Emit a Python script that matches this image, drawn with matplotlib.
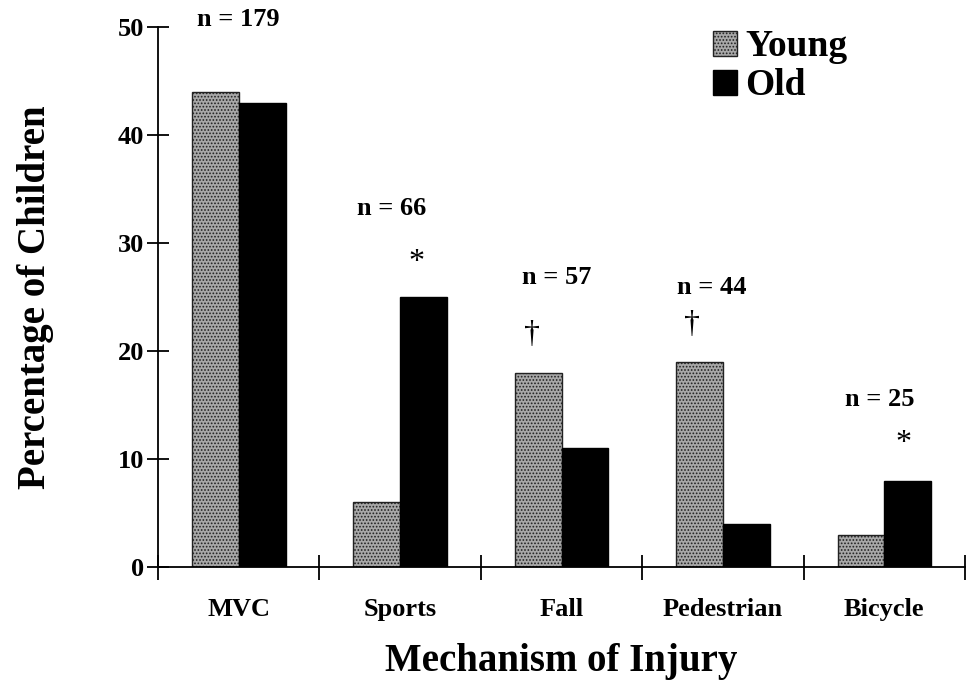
import numpy as np
import matplotlib.pyplot as plt
import matplotlib as mpl

plt.rcParams['font.family'] = ['Liberation Serif', 'DejaVu Serif']
plt.rcParams['font.weight'] = 'bold'
mpl.rcParams['hatch.linewidth'] = 0.8

# percentage of children per mechanism of injury
categories = ['MVC', 'Sports', 'Fall', 'Pedestrian', 'Bicycle']
young = [44, 6, 18, 19, 3]
old = [43, 25, 11, 4, 8]

# group sizes and significance marks
n_labels = ['n = 179', 'n = 66', 'n = 57', 'n = 44', 'n = 25']
n_pos = [(0.0, 50.7), (0.95, 33.2), (1.97, 26.8), (2.93, 25.9), (3.97, 15.5)]
marks = ['*', '\u2020', '\u2020', '*']
mark_pos = [(1.10, 28.2), (1.82, 21.5), (2.81, 22.5), (4.12, 11.4)]

fig = plt.figure(figsize=(9.67, 6.9), dpi=100)
ax = fig.add_axes([0.1634, 0.178, 0.8346, 0.783])

x = np.arange(len(categories))
w = 0.29
b1 = ax.bar(x - w / 2, young, w, facecolor='#a8a8a8', edgecolor='#222222',
            hatch='.....', linewidth=1.0, label='Young')
b2 = ax.bar(x + w / 2, old, w, facecolor='black', edgecolor='black',
            linewidth=1.0, label='Old')

for txt, (px, py) in zip(n_labels, n_pos):
    ax.text(px, py, txt, ha='center', va='center', fontsize=19,
            fontweight='bold', clip_on=False)
for txt, (px, py) in zip(marks, mark_pos):
    ax.text(px, py, txt, ha='center', va='center', fontsize=23,
            fontweight='normal')

ax.set_xlim(-0.5, 4.5)
ax.set_ylim(0, 50)

ax.spines['top'].set_visible(False)
ax.spines['right'].set_visible(False)
ax.spines['left'].set_linewidth(1.3)
ax.spines['bottom'].set_linewidth(1.3)

ax.set_yticks([0, 10, 20, 30, 40, 50])
ax.tick_params(axis='y', direction='inout', length=16, width=1.3,
               labelsize=19, pad=2)
ax.set_xticks(np.arange(-0.5, 5, 1))
ax.set_xticklabels([])
ax.tick_params(axis='x', which='major', direction='inout', length=18,
               width=1.3)
ax.set_xticks(x, minor=True)
ax.set_xticklabels(categories, minor=True)
ax.tick_params(axis='x', which='minor', length=0, labelsize=19, pad=22)
for lab in ax.get_yticklabels() + ax.get_xticklabels(minor=True):
    lab.set_fontweight('bold')

ax.set_ylabel('Percentage of Children', fontsize=28, fontweight='bold',
              labelpad=46)
ax.set_xlabel('Mechanism of Injury', fontsize=28, fontweight='bold',
              labelpad=16)

leg = ax.legend(handles=[b1, b2], loc='upper right',
                bbox_to_anchor=(0.877, 1.03), frameon=False, fontsize=27,
                handlelength=0.65, handleheight=0.65, handletextpad=0.2,
                labelspacing=0.1, borderpad=0)
for t in leg.get_texts():
    t.set_fontweight('bold')

fig.savefig('out.png', dpi=100)
